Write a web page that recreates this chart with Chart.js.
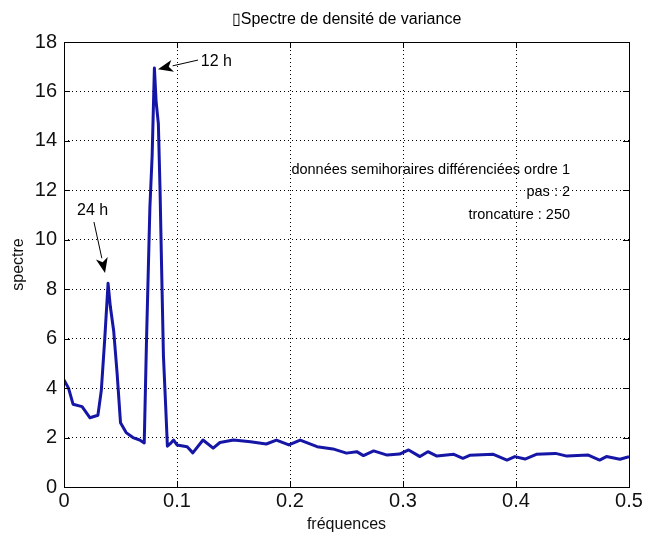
<!DOCTYPE html>
<html>
<head>
<meta charset="utf-8">
<title>Spectre de densité de variance</title>
<script src="https://cdn.jsdelivr.net/npm/chart.js@4.4.1/dist/chart.umd.min.js"></script>
<style>
  html, body { margin: 0; padding: 0; background: #fff; }
  #wrap { width: 645px; height: 535px; }
</style>
</head>
<body>
<div id="wrap"><canvas id="spectreChart" width="645" height="535"></canvas></div>
<script>
// Spectre de densité de variance - données semihoraires différenciées
const frequences = [
    0, 0.004, 0.008, 0.016, 0.023, 0.030, 0.033, 0.036, 0.039, 0.041,
    0.044, 0.047, 0.050, 0.055, 0.061, 0.067, 0.071, 0.073, 0.076, 0.078,
    0.080, 0.0815, 0.0835, 0.085, 0.0865, 0.088, 0.090, 0.0915, 0.094, 0.097,
    0.100, 0.109, 0.114, 0.123, 0.132, 0.138, 0.150, 0.165, 0.179, 0.188,
    0.199, 0.209, 0.224, 0.238, 0.250, 0.259, 0.265, 0.274, 0.286, 0.297,
    0.305, 0.315, 0.322, 0.330, 0.345, 0.353, 0.359, 0.380, 0.392, 0.399,
    0.408, 0.418, 0.435, 0.445, 0.464, 0.474, 0.480, 0.492, 0.500
];
const spectre = [
    4.33, 4.0, 3.35, 3.25, 2.8, 2.9, 3.9, 5.95, 8.24, 7.3,
    6.3, 4.6, 2.6, 2.2, 2.0, 1.9, 1.78, 5.9, 11.3, 13.4,
    16.95, 15.6, 14.7, 12.0, 8.6, 5.3, 3.25, 1.65, 1.75, 1.9,
    1.7, 1.63, 1.38, 1.9, 1.57, 1.8, 1.9, 1.83, 1.74, 1.9,
    1.70, 1.9, 1.63, 1.54, 1.37, 1.43, 1.27, 1.46, 1.29, 1.33,
    1.5, 1.23, 1.43, 1.25, 1.32, 1.16, 1.28, 1.32, 1.09, 1.23,
    1.13, 1.32, 1.36, 1.25, 1.29, 1.09, 1.23, 1.12, 1.23
];

// Axis ranges and tick steps
const xRange = [0, 0.5];
const xStep = 0.1;
const yRange = [0, 18];
const yStep = 2;

// Arrow annotations (data coordinates): label, label position, arrow tail, arrow tip
const annotLabels = ['12 h', '24 h'];
const annotTextPos = [[0.121, 17.2], [0.0115, 11.2]];
const annotTail = [[0.1186, 17.27], [0.0265, 10.72]];
const annotTip = [[0.0832, 16.9], [0.0363, 8.66]];

// Right-aligned info text
const infoLines = ['données semihoraires différenciées ordre 1', 'pas : 2', 'troncature : 250'];
const infoAnchor = [0.4478, 12.82];
const infoLineGap = 0.9;   // in y units

const FONT = '"Liberation Sans", Arial, Helvetica, sans-serif';

// Draws the box, inward ticks, title and annotations on top of the chart
const decorPlugin = {
    id: 'decor',
    afterDraw(chart) {
        const { ctx, chartArea: area, scales } = chart;
        const xs = scales.x, ys = scales.y;
        ctx.save();

        // inward tick marks on all four sides
        ctx.strokeStyle = '#000';
        ctx.lineWidth = 1;
        ctx.beginPath();
        xs.ticks.forEach(t => {
            const px = Math.round(xs.getPixelForValue(t.value)) + 0.5;
            ctx.moveTo(px, area.bottom); ctx.lineTo(px, area.bottom - 6);
            ctx.moveTo(px, area.top); ctx.lineTo(px, area.top + 6);
        });
        ys.ticks.forEach(t => {
            const py = Math.round(ys.getPixelForValue(t.value)) + 0.5;
            ctx.moveTo(area.left, py); ctx.lineTo(area.left + 6, py);
            ctx.moveTo(area.right, py); ctx.lineTo(area.right - 6, py);
        });
        ctx.stroke();

        // axes box
        ctx.strokeRect(Math.round(area.left) + 0.5, Math.round(area.top) + 0.5,
            Math.round(area.right - area.left), Math.round(area.bottom - area.top));

        // title
        ctx.fillStyle = '#000';
        ctx.font = '16px ' + FONT;
        ctx.textAlign = 'center';
        ctx.textBaseline = 'middle';
        ctx.fillText('\u25AFSpectre de densité de variance', (area.left + area.right) / 2, 20);

        // arrows
        annotLabels.forEach((label, i) => {
            const x0 = xs.getPixelForValue(annotTail[i][0]);
            const y0 = ys.getPixelForValue(annotTail[i][1]);
            const x1 = xs.getPixelForValue(annotTip[i][0]);
            const y1 = ys.getPixelForValue(annotTip[i][1]);
            const ang = Math.atan2(y1 - y0, x1 - x0);
            const headLen = 15, headW = 6;
            const bx = x1 - headLen * Math.cos(ang), by = y1 - headLen * Math.sin(ang);
            ctx.beginPath();
            ctx.moveTo(x0, y0);
            ctx.lineTo(bx, by);
            ctx.stroke();
            ctx.beginPath();
            ctx.moveTo(x1, y1);
            ctx.lineTo(bx + headW * Math.sin(ang), by - headW * Math.cos(ang));
            ctx.lineTo(bx + 4 * Math.cos(ang), by + 4 * Math.sin(ang));
            ctx.lineTo(bx - headW * Math.sin(ang), by + headW * Math.cos(ang));
            ctx.closePath();
            ctx.fill();

            ctx.textAlign = 'left';
            ctx.font = '16px ' + FONT;
            ctx.fillText(label, xs.getPixelForValue(annotTextPos[i][0]), ys.getPixelForValue(annotTextPos[i][1]));
        });

        // info text block
        ctx.font = '14.5px ' + FONT;
        ctx.textAlign = 'right';
        infoLines.forEach((line, i) => {
            ctx.fillText(line, xs.getPixelForValue(infoAnchor[0]),
                ys.getPixelForValue(infoAnchor[1] - i * infoLineGap));
        });
        ctx.restore();
    }
};

const ctx = document.getElementById('spectreChart').getContext('2d');
const spectreChart = new Chart(ctx, {
    type: 'line',
    data: {
        datasets: [{
            label: 'spectre',
            data: frequences.map((f, i) => ({ x: f, y: spectre[i] })),
            borderColor: '#1616a6',
            borderWidth: 3,
            pointRadius: 0,
            tension: 0,
            fill: false,
            borderJoinStyle: 'round'
        }]
    },
    options: {
        responsive: false,
        animation: false,
        events: [],
        layout: { padding: { left: 0, right: 16, top: 42, bottom: 0 } },
        plugins: {
            legend: { display: false },
            title: { display: false },
            tooltip: { enabled: false }
        },
        scales: {
            x: {
                type: 'linear',
                min: xRange[0],
                max: xRange[1],
                afterFit: scale => { scale.height = 48; },
                ticks: {
                    stepSize: xStep,
                    padding: 2,
                    color: '#111',
                    font: { family: FONT, size: 20 },
                    maxRotation: 0,
                    callback: v => String(Math.round(v * 10) / 10)
                },
                grid: { color: '#000', lineWidth: 1, drawTicks: false },
                border: { display: false, dash: [1, 3] },
                title: {
                    display: true,
                    text: 'fréquences',
                    color: '#111',
                    font: { family: FONT, size: 16 },
                    padding: { top: 1, bottom: 1 }
                }
            },
            y: {
                min: yRange[0],
                max: yRange[1],
                afterFit: scale => { scale.width = 64; },
                ticks: {
                    stepSize: yStep,
                    padding: 7,
                    color: '#111',
                    font: { family: FONT, size: 20 }
                },
                grid: { color: '#000', lineWidth: 1, drawTicks: false },
                border: { display: false, dash: [1, 3] },
                title: {
                    display: true,
                    text: 'spectre',
                    color: '#111',
                    font: { family: FONT, size: 16 },
                    padding: { top: 9, bottom: 9 }
                }
            }
        }
    },
    plugins: [decorPlugin]
});
</script>
</body>
</html>
